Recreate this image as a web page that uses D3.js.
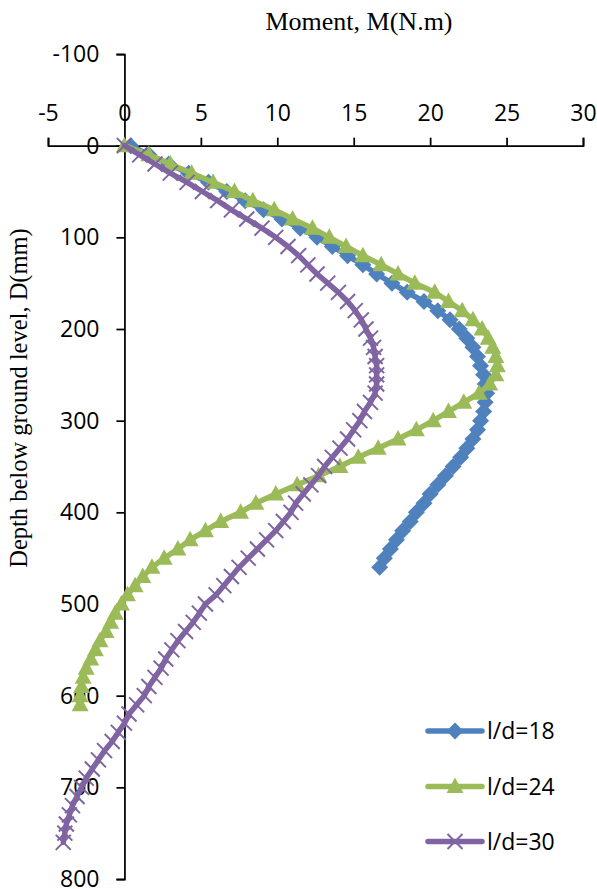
<!DOCTYPE html>
<html><head><meta charset="utf-8">
<script src="https://cdn.jsdelivr.net/npm/d3@7"></script>
<style>body{margin:0;background:#fff} svg{display:block}</style>
</head><body>
<svg id="chart" width="597" height="889"></svg>
<script>
// ---------- data ----------
const xTicks = [-5, 0, 5, 10, 15, 20, 25, 30];
const yTicks = [-100, 0, 100, 200, 300, 400, 500, 600, 700, 800];
const seriesNames = ["l/d=18", "l/d=24", "l/d=30"];

const depth18 = [0,10,20,30,40,50,60,70,80,90,100,110,120,130,140,150,160,170,180,190,200,210,220,230,240,250,260,270,280,290,300,310,320,330,340,350,360,370,380,390,400,410,420,430,440,450,460];
const moment18 = [0.4,1.6,2.9,4.2,5.5,6.7,7.9,9.1,10.3,11.5,12.6,13.6,14.6,15.6,16.5,17.5,18.5,19.6,20.5,21.3,21.9,22.4,22.8,23.1,23.3,23.5,23.6,23.7,23.6,23.5,23.3,23.1,22.8,22.4,22.0,21.5,21.0,20.5,20.0,19.6,19.1,18.7,18.2,17.8,17.4,17.0,16.7];

const depth24 = [0,10,20,30,40,50,60,70,80,90,100,110,120,130,140,150,160,170,180,190,200,210,220,230,240,250,260,270,280,290,300,310,320,330,340,350,360,370,380,390,400,410,420,430,440,450,460,470,480,490,500,510,520,530,540,550,560,570,580,590,600,610];
const moment24 = [0.0,1.6,3.0,4.4,5.8,7.2,8.4,9.8,11.0,12.3,13.4,14.5,15.6,16.8,17.9,19.0,20.3,21.2,22.1,22.8,23.4,23.8,24.1,24.3,24.4,24.3,23.9,23.2,22.2,21.2,20.2,19.1,17.9,16.6,15.3,14.1,12.7,11.3,9.9,8.6,7.6,6.3,5.3,4.3,3.5,2.6,1.8,1.2,0.7,0.2,-0.2,-0.6,-0.9,-1.2,-1.6,-1.9,-2.2,-2.5,-2.7,-2.8,-2.9,-2.9];

const depth30 = [0,10,20,30,40,50,60,70,80,90,100,110,120,130,140,150,160,170,180,190,200,210,220,230,240,250,260,270,280,290,300,310,320,330,340,350,360,370,380,390,400,410,420,430,440,450,460,470,480,490,500,510,520,530,540,550,560,570,580,590,600,610,620,630,640,650,660,670,680,690,700,710,720,730,740,750,760];
const moment30 = [0.0,1.0,2.0,3.0,4.1,5.1,6.1,7.0,8.0,9.0,9.9,10.7,11.4,12.0,12.6,13.3,14.0,14.6,15.1,15.5,15.8,16.1,16.3,16.4,16.5,16.5,16.5,16.4,16.1,15.7,15.4,15.0,14.6,14.1,13.6,13.1,12.7,12.2,11.7,11.2,10.9,10.4,9.9,9.3,8.7,8.1,7.5,7.0,6.5,6.0,5.3,4.9,4.5,4.0,3.5,3.1,2.7,2.4,2.0,1.6,1.3,0.8,0.3,0.0,-0.4,-0.8,-1.3,-1.7,-2.1,-2.5,-2.8,-3.1,-3.4,-3.6,-3.8,-3.9,-4.0];

// ---------- setup ----------
const svg = d3.select("#chart");
const x = d3.scaleLinear().domain([-5, 30]).range([48, 583]);
const y = d3.scaleLinear().domain([-100, 800]).range([54, 879]);

const colors = ["#4F81BD", "#9BBB59", "#8064A2"];
const series = [
  {name: seriesNames[0], d: depth18, m: moment18, color: colors[0], marker: "diamond"},
  {name: seriesNames[1], d: depth24, m: moment24, color: colors[1], marker: "triangle"},
  {name: seriesNames[2], d: depth30, m: moment30, color: colors[2], marker: "x"}
];

function markerPath(type) {
  if (type === "diamond") return "M0,-8.5L8.5,0L0,8.5L-8.5,0Z";
  if (type === "triangle") return "M0,-9L8.5,6.5L-8.5,6.5Z";
  return "M-7.5,-7.5L7.5,7.5M-7.5,7.5L7.5,-7.5";
}
function drawMarker(g, type, color, px, py) {
  const p = g.append("path").attr("d", markerPath(type))
    .attr("transform", `translate(${px},${py})`);
  if (type === "x") p.attr("fill", "none").attr("stroke", color).attr("stroke-width", 2);
  else p.attr("fill", color).attr("stroke", "none");
}

// ---------- axes ----------
const tickFont = "'Open Sans', sans-serif";
const xAxis = svg.append("g").attr("transform", `translate(0,${y(0)})`)
  .call(d3.axisTop(x).tickValues(xTicks).tickSize(8).tickPadding(17).tickFormat(d3.format("d")));
const yAxis = svg.append("g").attr("transform", `translate(${x(0)},0)`)
  .call(d3.axisLeft(y).tickValues(yTicks).tickSize(8).tickPadding(17).tickFormat(d3.format("d")));
[xAxis, yAxis].forEach(a => {
  a.selectAll("path, line").attr("stroke", "#000").attr("stroke-width", 1.75);
  a.selectAll("text").attr("fill", "#000").style("font-family", tickFont).style("font-size", "23px");
});
xAxis.selectAll("text").text(d => d < 0 ? "-" + Math.abs(d) : d);
yAxis.selectAll("text").text(d => d < 0 ? "-" + Math.abs(d) : d);

// ---------- series ----------
const plot = svg.append("g");
series.forEach(s => {
  const pts = s.d.map((dv, i) => [s.m[i], dv]);
  const g = plot.append("g");
  g.append("path").datum(pts)
    .attr("d", d3.line().x(p => x(p[0])).y(p => y(p[1])))
    .attr("fill", "none").attr("stroke", s.color).attr("stroke-width", 5.5)
    .attr("stroke-linejoin", "round").attr("stroke-linecap", "round");
  pts.forEach(p => drawMarker(g, s.marker, s.color, x(p[0]), y(p[1])));
});

// ---------- titles ----------
svg.append("text").attr("x", 359).attr("y", 30).attr("text-anchor", "middle")
  .style("font-family", "'Liberation Serif', 'Times New Roman', serif").style("font-size", "26px")
  .attr("fill", "#000").text("Moment, M(N.m)");
svg.append("text").attr("transform", "translate(27,398) rotate(-90)").attr("text-anchor", "middle")
  .style("font-family", "'Liberation Serif', 'Times New Roman', serif").style("font-size", "24.5px")
  .attr("fill", "#000").text("Depth below ground level, D(mm)");

// ---------- legend ----------
const legY = [731, 786.5, 841.5];
const leg = svg.append("g");
series.forEach((s, i) => {
  const g = leg.append("g");
  g.append("line").attr("x1", 428).attr("x2", 482).attr("y1", legY[i]).attr("y2", legY[i])
    .attr("stroke", s.color).attr("stroke-width", 5.5).attr("stroke-linecap", "round");
  drawMarker(g, s.marker, s.color, 455, legY[i]);
  g.append("text").attr("x", 487).attr("y", legY[i]).attr("dy", "0.35em")
    .style("font-family", tickFont).style("font-size", "23px").attr("fill", "#000").text(s.name);
});
</script>
</body></html>
